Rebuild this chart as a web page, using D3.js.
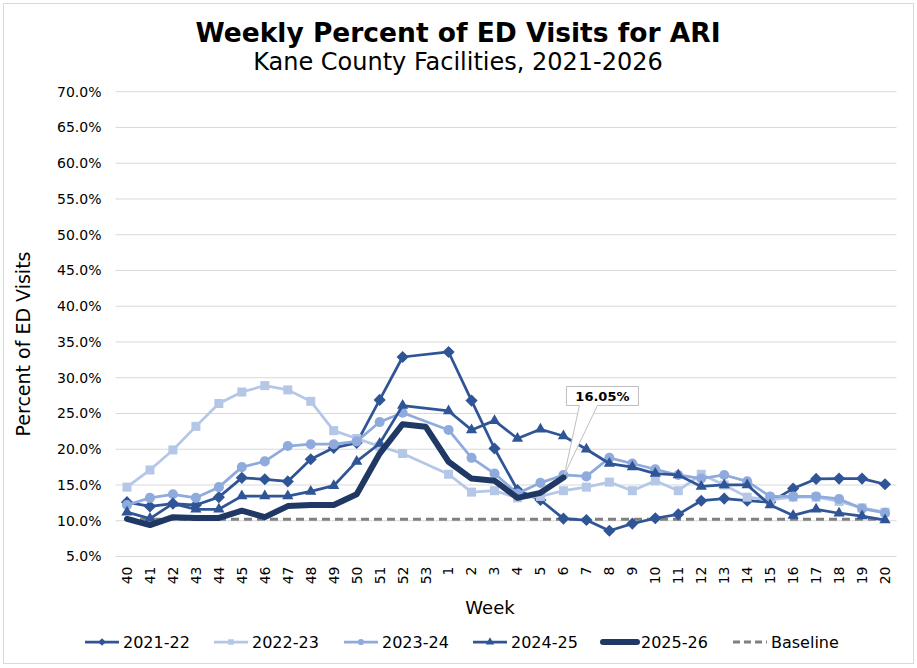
<!DOCTYPE html>
<html>
<head>
<meta charset="utf-8">
<script src="https://cdn.jsdelivr.net/npm/d3@7"></script>
<style>
  body { margin: 0; background: #fff; }
  svg { font-family: "DejaVu Sans", Verdana, sans-serif; }
</style>
</head>
<body>
<div id="chart"></div>
<script>
// weeks 40..53 then 1..20
var weeks = ["40","41","42","43","44","45","46","47","48","49","50","51","52","53",
  "1","2","3","4","5","6","7","8","9","10","11","12","13","14","15","16","17","18","19","20"];

var s2122 = [12.6,12.0,12.4,12.2,13.3,16.0,15.8,15.5,18.6,20.2,20.9,26.9,32.9,null,
  33.6,26.8,20.1,14.3,12.9,10.3,10.1,8.6,9.6,10.35,10.9,12.8,13.1,12.8,12.6,14.5,15.85,15.9,15.9,15.1];
var s2223 = [14.7,17.1,19.9,23.2,26.4,28.0,28.9,28.3,26.7,22.6,21.5,20.4,19.4,null,
  16.5,14.0,14.2,13.2,13.4,14.2,14.7,15.4,14.2,15.6,14.2,16.5,15.0,13.3,12.9,13.3,13.3,12.7,11.8,11.2];
var s2324 = [12.2,13.2,13.7,13.2,14.7,17.5,18.3,20.45,20.7,20.7,21.1,23.8,25.1,null,
  22.7,18.8,16.6,13.8,15.3,16.4,16.2,18.8,18.0,17.2,16.4,15.9,16.4,15.5,13.4,13.4,13.4,13.05,11.7,11.1];
var s2425 = [11.2,10.3,12.4,11.6,11.6,13.45,13.45,13.45,14.1,14.9,18.3,20.8,26.1,null,
  25.35,22.7,24.0,21.5,22.8,21.85,20.0,18.0,17.5,16.6,16.4,14.8,15.0,15.0,12.2,10.75,11.6,11.05,10.65,10.1];
var s2526 = [10.25,9.4,10.5,10.4,10.4,11.4,10.5,12.05,12.2,12.2,13.7,19.4,23.5,23.15,
  18.25,15.9,15.6,13.2,13.9,16.05];
var baseline = 10.2;
var yTicks = [5,10,15,20,25,30,35,40,45,50,55,60,65,70];

var series = [
  {name: "2021-22", values: s2122, color: "#2F5597", marker: "diamond", width: 2.75},
  {name: "2022-23", values: s2223, color: "#B4C7E7", marker: "square", width: 2.75},
  {name: "2023-24", values: s2324, color: "#8FAADC", marker: "circle", width: 2.75},
  {name: "2024-25", values: s2425, color: "#2F5597", marker: "triangle", width: 2.75},
  {name: "2025-26", values: s2526, color: "#1F3864", marker: "none", width: 6}
];

var W = 917, H = 668;
var svg = d3.select("#chart").append("svg").attr("width", W).attr("height", H);

svg.append("rect").attr("x", 3.5).attr("y", 3.5).attr("width", W - 7).attr("height", H - 8)
  .attr("fill", "#fff").attr("stroke", "#D9D9D9");

var x = d3.scaleBand().domain(weeks).range([115.5, 896.5]).padding(0);
var y = d3.scaleLinear().domain([5, 70]).range([556.5, 91.7]);
var cx = function (w) { return x(w) + x.bandwidth() / 2; };

// title
svg.append("text").attr("x", 458).attr("y", 42).attr("text-anchor", "middle")
  .style("font-size", "26.5px").style("font-weight", "bold").text("Weekly Percent of ED Visits for ARI");
svg.append("text").attr("x", 458).attr("y", 70).attr("text-anchor", "middle")
  .style("font-size", "24px").text("Kane County Facilities, 2021-2026");

// grid
svg.append("g").selectAll("line").data(yTicks).enter().append("line")
  .attr("x1", 115.5).attr("x2", 896.5)
  .attr("y1", function (d) { return y(d); }).attr("y2", function (d) { return y(d); })
  .attr("stroke", "#D9D9D9").attr("stroke-width", 1);

// y axis
var yAxis = svg.append("g").attr("transform", "translate(115.5,0)")
  .call(d3.axisLeft(y).tickValues(yTicks).tickSize(0).tickPadding(14)
    .tickFormat(function (d) { return d.toFixed(1) + "%"; }));
yAxis.select(".domain").remove();
yAxis.selectAll("text").style("font-size", "14px").style("font-family", "DejaVu Sans").attr("fill", "#000");

// x axis
var xAxis = svg.append("g").attr("transform", "translate(0,556.5)")
  .call(d3.axisBottom(x).tickSize(0));
xAxis.select(".domain").remove();
xAxis.selectAll("text").style("font-size", "14px").style("font-family", "DejaVu Sans").attr("fill", "#000")
  .attr("transform", "rotate(-90)").attr("text-anchor", "end")
  .attr("x", -10).attr("y", 0).attr("dy", "0.35em");

// axis titles
svg.append("text").attr("transform", "translate(30,344) rotate(-90)").attr("text-anchor", "middle")
  .style("font-size", "19px").text("Percent of ED Visits");
svg.append("text").attr("x", 490).attr("y", 614).attr("text-anchor", "middle")
  .style("font-size", "18px").text("Week");

// baseline
svg.append("line").attr("x1", cx("40")).attr("x2", cx("20"))
  .attr("y1", y(baseline)).attr("y2", y(baseline))
  .attr("stroke", "#808080").attr("stroke-width", 3).attr("stroke-dasharray", "8,5");

function markerPath(m) {
  if (m === "diamond") return d3.symbol().type(d3.symbolSquare).size(74)();
  if (m === "square") return d3.symbol().type(d3.symbolSquare).size(81)();
  if (m === "circle") return d3.symbol().type(d3.symbolCircle).size(80)();
  if (m === "triangle") return d3.symbol().type(d3.symbolTriangle).size(55)();
  return d3.symbol().type(d3.symbolSquare).size(30)();
}
function markerRot(m) { return m === "diamond" || m === "none" ? " rotate(45)" : ""; }

var line = d3.line().x(function (d) { return cx(d.w); }).y(function (d) { return y(d.v); });

series.forEach(function (s) {
  var pts = [];
  s.values.forEach(function (v, i) { if (v !== null && v !== undefined) pts.push({w: weeks[i], v: v}); });
  var g = svg.append("g");
  g.append("path").datum(pts).attr("d", line).attr("fill", "none")
    .attr("stroke", s.color).attr("stroke-width", s.width)
    .attr("stroke-linejoin", "round").attr("stroke-linecap", "round");
  if (s.marker !== "none") {
    g.selectAll("path.m").data(pts).enter().append("path").attr("class", "m")
      .attr("d", markerPath(s.marker))
      .attr("transform", function (d) { return "translate(" + cx(d.w) + "," + y(d.v) + ")" + markerRot(s.marker); })
      .attr("fill", s.color);
  }
});

// callout for latest value
var last = s2526[s2526.length - 1];
var px = cx(weeks[s2526.length - 1]), py = y(last);
var bl = px + 3, br = px + 75, bt = py - 91, bb = py - 72;
svg.append("path")
  .attr("d", "M" + bl + "," + bt + "H" + br + "V" + bb + "H" + (px + 34) + "L" + (px + 1) + "," + (py - 3) +
    "L" + (px + 16) + "," + bb + "H" + bl + "Z")
  .attr("fill", "#fff").attr("stroke", "#BFBFBF").attr("stroke-width", 1);
svg.append("text").attr("x", (bl + br) / 2).attr("y", (bt + bb) / 2).attr("dy", "0.36em")
  .attr("text-anchor", "middle").style("font-size", "13px").style("font-weight", "bold")
  .text(last.toFixed(2) + "%");

// legend
var legendItems = [
  {name: "2021-22", color: "#2F5597", marker: "diamond", width: 2.75, x: 85},
  {name: "2022-23", color: "#B4C7E7", marker: "square", width: 2.75, x: 214},
  {name: "2023-24", color: "#8FAADC", marker: "circle", width: 2.75, x: 344},
  {name: "2024-25", color: "#2F5597", marker: "triangle", width: 2.75, x: 473},
  {name: "2025-26", color: "#1F3864", marker: "none", width: 6, x: 603},
  {name: "Baseline", color: "#808080", marker: "dash", width: 3, x: 733}
];
var lg = svg.append("g").selectAll("g").data(legendItems).enter().append("g")
  .attr("transform", function (d) { return "translate(" + d.x + ",642)"; });
lg.append("line").attr("x1", 0).attr("x2", 34).attr("y1", 0).attr("y2", 0)
  .attr("stroke", function (d) { return d.color; })
  .attr("stroke-width", function (d) { return d.width; })
  .attr("stroke-linecap", function (d) { return d.marker === "none" ? "round" : "butt"; })
  .attr("stroke-dasharray", function (d) { return d.marker === "dash" ? "7,4" : null; });
lg.filter(function (d) { return d.marker !== "dash" && d.marker !== "none"; }).append("path")
  .attr("d", function (d) { return d3.symbol().type(d.marker === "circle" ? d3.symbolCircle :
      d.marker === "triangle" ? d3.symbolTriangle : d3.symbolSquare).size(30)(); })
  .attr("transform", function (d) { return "translate(17,0)" + (d.marker === "diamond" ? " rotate(45)" : ""); })
  .attr("fill", function (d) { return d.color; });
lg.append("text").attr("x", 38).attr("y", 0).attr("dy", "0.35em")
  .style("font-size", "16px").text(function (d) { return d.name; });
</script>
</body>
</html>
